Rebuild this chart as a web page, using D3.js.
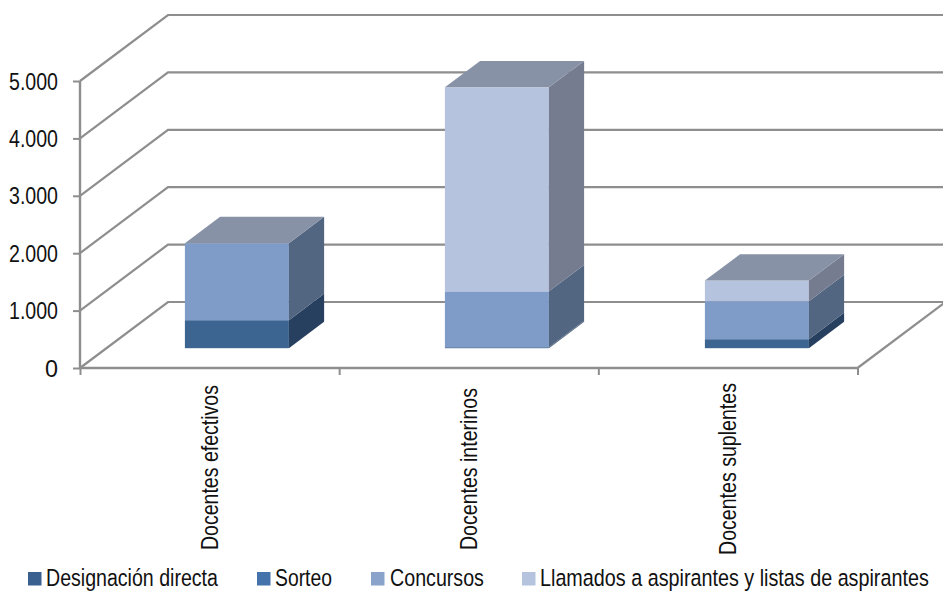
<!DOCTYPE html>
<html><head><meta charset="utf-8">
<script src="https://cdn.jsdelivr.net/npm/d3@7"></script>
<style>html,body{margin:0;background:#fff;overflow:hidden}svg{display:block}text{font-family:"Liberation Sans",Arial,sans-serif;fill:#111}</style>
</head><body><svg id="c" width="943" height="593"></svg>
<script>
const categories = ["Docentes efectivos","Docentes interinos","Docentes suplentes"];
const seriesNames = ["Designación directa","Sorteo","Concursos","Llamados a aspirantes y listas de aspirantes"];
const designacion = [0,10,0];
const sorteo = [488,10,157];
const concursos = [1341,970,662];
const llamados = [0,3554,360];
const yTicks = [0,1000,2000,3000,4000,5000];
const frontColors = ["#3a5f8f","#3c6592","#7f9bc8","#b6c3de"];
const sideColors = ["#27405f","#28405f","#526581","#767c90"];
const topColor = "#8792a6";
const legendColors = ["#3a6090","#4373aa","#8aa3cb","#b6c3de"];
const seriesVals = [designacion,sorteo,concursos,llamados];

const svg = d3.select("#c");
const y = d3.scaleLinear().domain([0,5000]).range([368,81]);
const x = d3.scaleBand().domain(categories).range([80,857.5]);
const xBars = d3.scaleBand().domain(categories).range([80.5,860.5]);
const depth = d3.scaleLinear().domain([0,1]).range([0,88]);
const depthY = d3.scaleLinear().domain([0,1]).range([0,-66]);
const axisColor = "#8e8e8e";
const lw = 2.2;

// Draw a text narrowed horizontally to a given length, anchored at (px,py) with optional rotation
function fitText(sel, str, px, py, len, size, rot){
  const t = sel.append("text").attr("font-size",size).text(str);
  const natural = t.node().getComputedTextLength();
  t.attr("transform",`translate(${px},${py})${rot?` rotate(${rot})`:""} scale(${len/natural},1)`);
  return t;
}

yTicks.forEach(t=>{
  const pts=[[80,y(t)],[80+depth(1),y(t)+depthY(1)],[943,y(t)+depthY(1)]];
  svg.append("path").attr("d",d3.line()(pts)).attr("fill","none").attr("stroke",axisColor).attr("stroke-width",lw);
});
svg.append("path").attr("d",d3.line()([[857.5,368],[857.5+depth(1),368+depthY(1)]])).attr("stroke",axisColor).attr("stroke-width",lw).attr("fill","none");

const fmt = d=>d3.format(",")(d).replace(/,/g,".");
const ga = svg.append("g").attr("transform","translate(80,0)")
  .call(d3.axisLeft(y).tickValues(yTicks).tickSize(7).tickFormat(""));
ga.select(".domain").attr("stroke",axisColor).attr("stroke-width",2.4).attr("d","M0,81V368");
ga.selectAll(".tick line").attr("stroke",axisColor).attr("stroke-width",2);
yTicks.forEach(t=>{
  fitText(svg, fmt(t), t===0?45:9, y(t)+8.5, t===0?13:49, 24);
});

const edges = categories.map(c=>x(c)).concat([x.range()[1]]);
const gb = svg.append("g").attr("transform","translate(0,368)")
  .call(d3.axisBottom(d3.scaleLinear().domain([80,857.5]).range([80,857.5])).tickValues(edges).tickSize(7).tickFormat(""));
gb.select(".domain").attr("stroke",axisColor).attr("stroke-width",2.4).attr("d","M80,0H857.5");
gb.selectAll(".tick line").attr("stroke",axisColor).attr("stroke-width",2);

const f0=0.3,f1=0.7;
const barW = xBars.bandwidth()*0.4;
categories.forEach((c,i)=>{
  const cx = xBars(c)+xBars.bandwidth()/2;
  const x0 = cx-barW/2+depth(f0), x1 = x0+barW;
  const y0off = depthY(f0), dx=depth(f1-f0), dy=depthY(f1-f0);
  let acc=0, topY=null;
  seriesVals.forEach((vals,s)=>{
    const v=vals[i]; if(!v) return;
    const b=y(acc)+y0off, t=y(acc+v)+y0off;
    svg.append("rect").attr("x",x0).attr("y",t).attr("width",barW).attr("height",b-t).attr("fill",frontColors[s]);
    svg.append("path").attr("d",d3.line()([[x1,b],[x1+dx,b+dy],[x1+dx,t+dy],[x1,t]])+"Z").attr("fill",sideColors[s]);
    acc+=v; topY=t;
  });
  svg.append("path").attr("d",d3.line()([[x0,topY],[x0+dx,topY+dy],[x1+dx,topY+dy],[x1,topY]])+"Z").attr("fill",topColor);
});

const catLen=[165,162,172], catBottom=[550,550,555];
categories.forEach((c,i)=>{
  const px=x(c)+x.bandwidth()/2;
  fitText(svg, c, px+8.5, catBottom[i], catLen[i], 23.5, -90);
});

const lgX=[28,257,371,522], lgTx=[46,275,390,540], lgLen=[172,57,94,389];
seriesNames.forEach((n,i)=>{
  svg.append("rect").attr("x",lgX[i]).attr("y",572).attr("width",13.5).attr("height",13.5).attr("fill",legendColors[i]);
  fitText(svg, n, lgTx[i], 586, lgLen[i], 23.5);
});
</script></body></html>
